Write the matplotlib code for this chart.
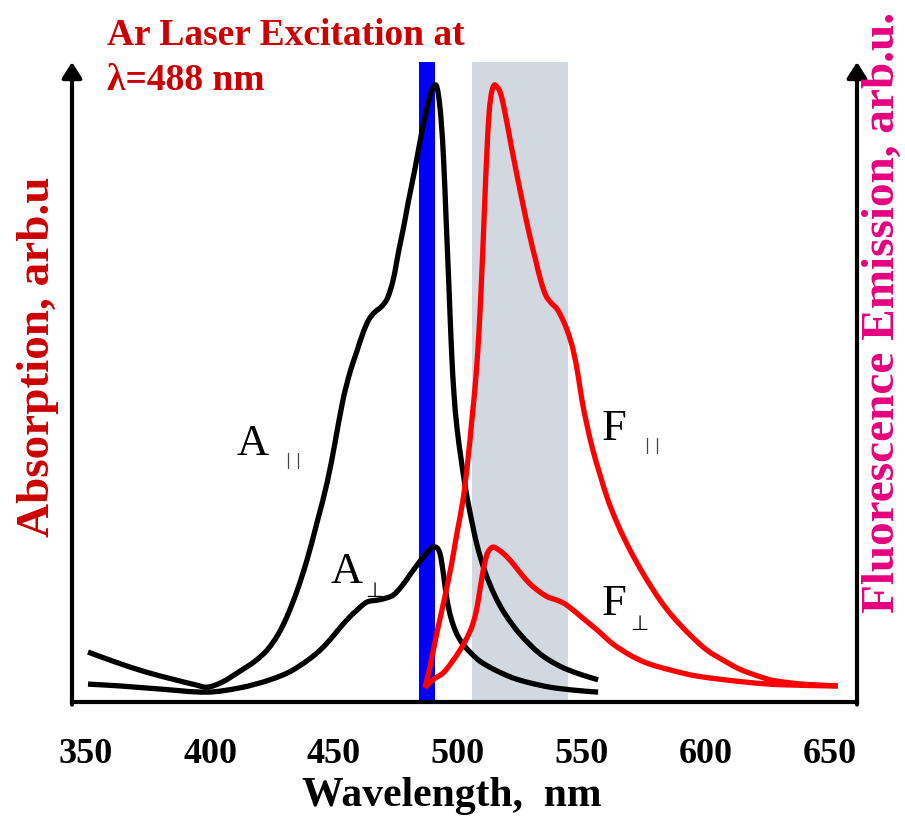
import matplotlib
matplotlib.use("Agg")
import numpy as np
import matplotlib.pyplot as plt
from matplotlib.path import Path
from matplotlib.patches import PathPatch

# ---- data: wavelength (nm) and intensity (arb. units, peak = 1) ----
a_par_nm = [350.8, 361.7, 373.8, 385.9, 394.0, 398.8, 404.8, 412.1, 418.1, 423.0,
            427.4, 431.0, 435.1, 439.1, 443.1, 447.2, 450.4, 453.6, 456.5, 459.3,
            461.7, 464.1, 466.5, 469.0, 471.4, 473.8, 476.2, 478.2, 479.8, 482.7,
            485.1, 487.5, 489.5, 491.0, 491.9, 493.1, 494.2, 495.2, 496.4, 497.4,
            498.4, 499.6, 501.2, 502.8, 504.8, 507.7, 510.9, 514.9, 518.9, 525.0,
            533.1, 541.1, 549.2, 556.5]
a_par_val = [0.081, 0.065, 0.049, 0.036, 0.028, 0.024, 0.032, 0.050, 0.066, 0.084,
             0.109, 0.138, 0.180, 0.230, 0.290, 0.355, 0.420, 0.489, 0.535, 0.569,
             0.598, 0.620, 0.632, 0.640, 0.653, 0.683, 0.733, 0.772, 0.807, 0.865,
             0.917, 0.962, 0.992, 1.000, 0.989, 0.948, 0.878, 0.783, 0.668, 0.569,
             0.498, 0.444, 0.395, 0.352, 0.308, 0.254, 0.211, 0.172, 0.143, 0.110,
             0.078, 0.058, 0.045, 0.036]

a_perp_nm = [350.8, 363.7, 379.8, 398.8, 412.1, 424.2, 433.5, 444.4, 455.2, 459.3,
             463.3, 467.3, 469.8, 473.8, 477.4, 480.6, 483.9, 487.1, 489.9, 491.5,
             492.7, 494.0, 495.6, 497.2, 499.2, 501.6, 504.8, 508.9, 514.9, 522.2,
             529.0, 537.1, 547.2, 556.5]
a_perp_val = [0.029, 0.026, 0.021, 0.016, 0.023, 0.036, 0.052, 0.084, 0.133, 0.149,
              0.162, 0.165, 0.167, 0.173, 0.188, 0.206, 0.224, 0.240, 0.251, 0.250,
              0.241, 0.211, 0.165, 0.136, 0.113, 0.096, 0.081, 0.066, 0.052, 0.039,
              0.031, 0.024, 0.019, 0.016]

f_par_nm = [486.7, 488.7, 491.5, 494.4, 497.2, 499.6, 502.0, 504.0, 505.6, 507.3,
            508.5, 509.3, 510.1, 510.9, 511.7, 512.5, 513.3, 514.1, 514.9, 516.9,
            518.9, 521.8, 525.8, 529.0, 531.5, 533.5, 535.5, 537.5, 539.9, 542.3,
            544.4, 546.4, 548.4, 550.0, 552.0, 554.4, 557.3, 560.5, 564.5, 569.4,
            575.4, 581.5, 586.7, 593.5, 600.4, 607.7, 613.7, 621.8, 627.0, 636.2,
            642.7, 653.2]
f_par_val = [0.023, 0.057, 0.112, 0.165, 0.219, 0.274, 0.327, 0.392, 0.457, 0.530,
             0.603, 0.668, 0.741, 0.822, 0.895, 0.952, 0.982, 0.996, 1.000, 0.989,
             0.956, 0.894, 0.814, 0.754, 0.713, 0.681, 0.658, 0.647, 0.637, 0.619,
             0.598, 0.571, 0.530, 0.489, 0.449, 0.408, 0.368, 0.327, 0.287, 0.246,
             0.203, 0.165, 0.138, 0.109, 0.084, 0.066, 0.053, 0.041, 0.035, 0.030,
             0.028, 0.026]

f_perp_nm = [486.7, 489.9, 494.0, 497.6, 500.8, 503.6, 505.6, 507.3, 508.5, 509.7,
             510.9, 512.1, 514.1, 516.9, 519.8, 523.0, 526.2, 529.4, 533.1, 536.3,
             539.9, 543.1, 546.4, 551.2, 556.0, 562.5, 569.4, 576.2, 585.5, 596.4,
             616.5, 629.8, 653.2]
f_perp_val = [0.023, 0.036, 0.047, 0.065, 0.084, 0.104, 0.122, 0.146, 0.173, 0.203,
              0.227, 0.243, 0.251, 0.245, 0.235, 0.220, 0.204, 0.190, 0.178, 0.170,
              0.165, 0.159, 0.149, 0.133, 0.117, 0.094, 0.076, 0.063, 0.052, 0.042,
              0.032, 0.028, 0.026]

laser_band = (484.2, 490.8)      # Ar laser line at 488 nm
detect_band = (505.6, 544.4)     # detection filter window
x_ticks = [350, 400, 450, 500, 550, 600, 650]

# ---- styling ----
SERIF = ["Liberation Serif", "DejaVu Serif"]
DARK_RED = "#CC0000"
PINK = "#E6007E"

W, H = 905, 817
fig = plt.figure(figsize=(W / 100, H / 100), dpi=100)
fig.patch.set_facecolor("white")

left_px, right_px, bottom_px, top_px = 72, 857, 702, 62
ax = fig.add_axes([left_px / W, 1 - bottom_px / H,
                   (right_px - left_px) / W, (bottom_px - top_px) / H])
ax.set_xlim(344.35, 660.9)
ax.set_ylim(0, 1.037)


def smooth_line(ax, xs, ys, color, lw, zorder):
    """Draw a smooth Bezier curve passing through every (x, y) sample."""
    pts = ax.transData.transform(np.column_stack([xs, ys]))
    n = len(pts)
    seg = np.linalg.norm(np.diff(pts, axis=0), axis=1)
    tang = np.zeros_like(pts)
    tang[0] = (pts[1] - pts[0]) / seg[0]
    tang[-1] = (pts[-1] - pts[-2]) / seg[-1]
    for i in range(1, n - 1):
        tang[i] = (pts[i + 1] - pts[i - 1]) / (seg[i - 1] + seg[i])
    verts = [pts[0]]
    codes = [Path.MOVETO]
    for i in range(n - 1):
        d = seg[i] / 3.0
        verts += [pts[i] + tang[i] * d, pts[i + 1] - tang[i + 1] * d, pts[i + 1]]
        codes += [Path.CURVE4] * 3
    verts = ax.transData.inverted().transform(np.array(verts))
    patch = PathPatch(Path(verts, codes), facecolor="none", edgecolor=color,
                      lw=lw, capstyle="butt", joinstyle="round", zorder=zorder)
    ax.add_patch(patch)


# bands
ax.axvspan(*detect_band, color="#D1D8E0", lw=0, zorder=1)
ax.axvspan(*laser_band, color="#0000FF", lw=0, zorder=2)

# spectra
lw = 3.8
smooth_line(ax, a_par_nm, a_par_val, "black", lw, 4)
smooth_line(ax, a_perp_nm, a_perp_val, "black", lw, 4)
smooth_line(ax, f_par_nm, f_par_val, "#FF0000", lw, 5)
smooth_line(ax, f_perp_nm, f_perp_val, "#FF0000", lw, 5)

# frame: bottom line plus two arrowed vertical axes
for side in ["top", "left", "right"]:
    ax.spines[side].set_visible(False)
ax.spines["bottom"].set_linewidth(3.0)
ax.spines["bottom"].set_zorder(6)
for xa in (0, 1):
    ax.annotate("", xy=(xa, 1.0), xytext=(xa, -0.004), xycoords="axes fraction",
                arrowprops=dict(arrowstyle="-|>,head_length=0.95,head_width=0.6",
                                lw=3.0, color="black", shrinkA=0, shrinkB=0,
                                mutation_scale=10),
                annotation_clip=False, zorder=7)

ax.set_yticks([])
ax.set_xticks(x_ticks)
ax.set_xticklabels([str(t) for t in x_ticks], fontfamily=SERIF,
                   fontweight="bold", fontsize=26)
ax.tick_params(axis="x", length=0, pad=26)
ax.set_facecolor("none")


def ftext(px, py, s, **kw):
    fig.text(px / W, 1 - py / H, s, **kw)


# axis titles
ftext(452, 806, "Wavelength,  nm", ha="center", va="baseline",
      fontfamily=SERIF, fontweight="bold", fontsize=30, color="black")
ftext(38, 357, "Absorption, arb.u", ha="center", va="center", rotation=90,
      fontfamily=SERIF, fontweight="bold", fontsize=34, color=DARK_RED)
ftext(883, 312, "Fluorescence Emission, arb.u.", ha="center", va="center",
      rotation=90, fontfamily=SERIF, fontweight="bold", fontsize=34, color=PINK)

# laser annotation
ftext(107, 45, "Ar Laser Excitation at", ha="left", va="baseline",
      fontfamily=SERIF, fontweight="bold", fontsize=27, color=DARK_RED)
ftext(107, 90, "\u03bb=488 nm", ha="left", va="baseline",
      fontfamily=SERIF, fontweight="bold", fontsize=27, color=DARK_RED)

# curve labels
lab = dict(ha="left", va="baseline", fontfamily=SERIF, fontsize=32, color="black")
sub = dict(ha="left", va="baseline", fontfamily=["DejaVu Sans"], color="#444444")
ftext(237, 455, "A", **lab)
ftext(286, 465, "| |", fontsize=11, **sub)
ftext(331, 583, "A", **lab)
ftext(365, 597, "\u22a5", fontsize=15, **{**sub, "color": "black"})
ftext(602, 440, "F", **lab)
ftext(645, 450, "| |", fontsize=11, **sub)
ftext(602, 615, "F", **lab)
ftext(630, 630, "\u22a5", fontsize=15, **{**sub, "color": "black"})

fig.savefig("out.png", dpi=100, facecolor="white")
